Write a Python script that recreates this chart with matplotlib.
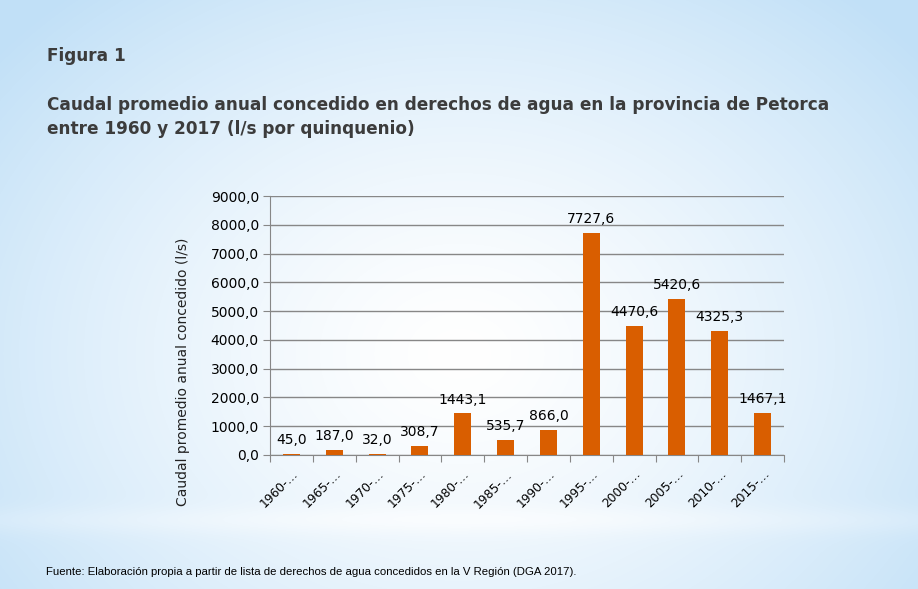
import numpy as np
import matplotlib
matplotlib.use("Agg")
import matplotlib.pyplot as plt

categories = ["1960-…", "1965-…", "1970-…", "1975-…", "1980-…", "1985-…",
              "1990-…", "1995-…", "2000-…", "2005-…", "2010-…", "2015-…"]
values = [45.0, 187.0, 32.0, 308.7, 1443.1, 535.7, 866.0, 7727.6, 4470.6, 5420.6, 4325.3, 1467.1]
yticks = [0, 1000, 2000, 3000, 4000, 5000, 6000, 7000, 8000, 9000]

def fmt(v):
    return f"{v:.1f}".replace(".", ",")

W, H = 918, 589
fig = plt.figure(figsize=(W / 100, H / 100), dpi=100)

# background gradient
bg = fig.add_axes([0, 0, 1, 1], zorder=-10)
yy, xx = np.mgrid[0:H, 0:W]
cx, cy = W * 0.5, H * 0.6
d = np.sqrt(((xx - cx) / (W * 0.65)) ** 2 + ((yy - cy) / (H * 0.8)) ** 2)
t = np.clip(d, 0, 1) ** 1.4
band = np.exp(-((yy - 520) / 14.0) ** 2) * 0.15
t = np.clip(t - band, 0, 1)
white = np.array([1.0, 1.0, 1.0])
blue = np.array([0.76, 0.88, 0.97])
img = white[None, None, :] * (1 - t[..., None]) + blue[None, None, :] * t[..., None]
bg.imshow(img, extent=[0, 1, 0, 1], aspect="auto", origin="upper")
bg.axis("off")

ax = fig.add_axes([270 / W, 1 - 455 / H, 514 / W, 259 / H])
ax.patch.set_alpha(0)
x = np.arange(len(categories))
ax.bar(x, values, width=0.4, color="#D95E00", zorder=3)
ax.set_xlim(-0.5, len(categories) - 0.5)
ax.set_ylim(0, 9000)
ax.set_yticks(yticks)
ax.set_yticklabels([fmt(v) for v in yticks], fontsize=10)
ax.yaxis.grid(True, color="#878787", linewidth=1.0, zorder=0)
ax.set_axisbelow(True)
for s in ["top", "right"]:
    ax.spines[s].set_visible(False)
for s in ["left", "bottom"]:
    ax.spines[s].set_color("#878787")
ax.tick_params(axis="y", length=5, color="#878787", pad=3, labelcolor="#000000")
ax.set_xticks(np.arange(len(categories) + 1) - 0.5, minor=False)
ax.set_xticklabels([])
ax.tick_params(axis="x", which="major", length=5, color="#878787")
ax.set_xticks(x, minor=True)
ax.set_xticklabels(categories, minor=True, rotation=45, ha="right", rotation_mode="anchor",
                   fontsize=8.8)
ax.tick_params(axis="x", which="minor", length=0, pad=9)

for xi, v in zip(x, values):
    ax.annotate(fmt(v), (xi, v), xytext=(0, 5), textcoords="offset points",
                ha="center", va="bottom", fontsize=10, color="#000000")

ax.set_ylabel("Caudal promedio anual concedido (l/s)", fontsize=10, color="#222222")
ax.yaxis.set_label_coords(-0.155, 0.32)

fig.text(47 / W, 1 - 56 / H, "Figura 1", fontsize=12.2, fontweight="bold",
         color="#3c3c3c", va="center", ha="left")
fig.text(47 / W, 1 - 117 / H,
         "Caudal promedio anual concedido en derechos de agua en la provincia de Petorca\nentre 1960 y 2017 (l/s por quinquenio)",
         fontsize=12.2, fontweight="bold", color="#3c3c3c", va="center", ha="left",
         linespacing=1.4)
fig.text(46 / W, 1 - 572 / H,
         "Fuente: Elaboración propia a partir de lista de derechos de agua concedidos en la V Región (DGA 2017).",
         fontsize=8.2, family="Liberation Sans", color="#000000", va="center", ha="left")

fig.savefig("out.png", dpi=100)
